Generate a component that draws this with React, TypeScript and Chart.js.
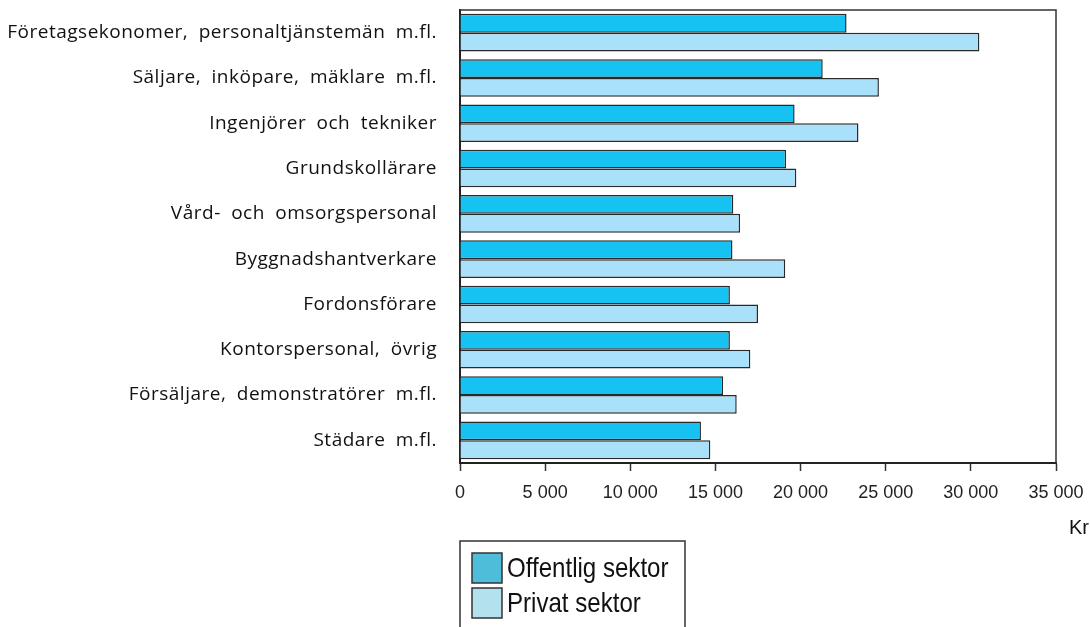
import React, { useEffect, useRef } from "react";
import { Chart, registerables } from "chart.js";

Chart.register(...registerables);

const categories = [
  "Företagsekonomer, personaltjänstemän m.fl.",
  "Säljare, inköpare, mäklare m.fl.",
  "Ingenjörer och tekniker",
  "Grundskollärare",
  "Vård- och omsorgspersonal",
  "Byggnadshantverkare",
  "Fordonsförare",
  "Kontorspersonal, övrig",
  "Försäljare, demonstratörer m.fl.",
  "Städare m.fl.",
];

const offentlig = [22700, 21300, 19650, 19150, 16050, 16000, 15850, 15850, 15450, 14150];
const privat = [30500, 24600, 23400, 19750, 16450, 19100, 17500, 17050, 16250, 14700];

const seriesNames = ["Offentlig sektor", "Privat sektor"];
const xTicks = [0, 5000, 10000, 15000, 20000, 25000, 30000, 35000];
const unitLabel = "Kr";

const formatNum = (v: number) => String(v).replace(/\B(?=(\d{3})+(?!\d))/g, " ");

const spacingPlugin = {
  id: "spacing",
  beforeDraw(chart: any) {
    const ctx = chart.ctx;
    ctx.letterSpacing = "0px";
    ctx.wordSpacing = "0px";
  },
  beforeDatasetsDraw(chart: any) {
    // y labels are drawn after datasets (ticks z = 1): widen their spacing
    const ctx = chart.ctx;
    ctx.letterSpacing = "0.5px";
    ctx.wordSpacing = "5px";
  },
};

const extrasPlugin = {
  id: "extras",
  afterDraw(chart: any) {
    const { ctx, chartArea } = chart;
    ctx.letterSpacing = "0px";
    ctx.wordSpacing = "0px";
    ctx.save();
    // top and right frame lines
    ctx.strokeStyle = "#333";
    ctx.lineWidth = 1.5;
    ctx.beginPath();
    ctx.moveTo(chartArea.left, chartArea.top);
    ctx.lineTo(chartArea.right, chartArea.top);
    ctx.lineTo(chartArea.right, chartArea.bottom);
    ctx.stroke();

    // unit label
    ctx.fillStyle = "#111";
    ctx.font = '20px "Liberation Sans", Arial, sans-serif';
    ctx.textAlign = "right";
    ctx.textBaseline = "middle";
    ctx.fillText(unitLabel, 1089, 528);

    // legend box
    ctx.strokeStyle = "#333";
    ctx.lineWidth = 1.5;
    ctx.beginPath();
    ctx.moveTo(460, 640);
    ctx.lineTo(460, 541);
    ctx.lineTo(685, 541);
    ctx.lineTo(685, 640);
    ctx.stroke();

    const swatchColors = ["#4DBDD9", "#B3E1EE"];
    const rows = [553, 588];
    rows.forEach((y, i) => {
      ctx.fillStyle = swatchColors[i];
      ctx.fillRect(472, y, 30, 30);
      ctx.strokeStyle = "#333";
      ctx.lineWidth = 1.5;
      ctx.strokeRect(472, y, 30, 30);
      ctx.save();
      ctx.translate(507, y + 16);
      ctx.scale(0.86, 1);
      ctx.font = '28px "Liberation Sans", Arial, sans-serif';
      ctx.textAlign = "left";
      ctx.textBaseline = "middle";
      ctx.fillStyle = "#111";
      ctx.fillText(seriesNames[i], 0, 0);
      ctx.restore();
    });
    ctx.restore();
  },
};

export default function App() {
  const canvasRef = useRef<HTMLCanvasElement | null>(null);

  useEffect(() => {
    if (!canvasRef.current) return;
    const chart = new Chart(canvasRef.current, {
      type: "bar",
      data: {
        labels: categories,
        datasets: [
          {
            label: seriesNames[0],
            data: offentlig,
            backgroundColor: "#16C2F1",
            borderColor: "#2a2a2a",
            borderWidth: 1.5,
            categoryPercentage: 0.83,
            barPercentage: 1.0,
          },
          {
            label: seriesNames[1],
            data: privat,
            backgroundColor: "#AAE1FA",
            borderColor: "#2a2a2a",
            borderWidth: 1.5,
            categoryPercentage: 0.83,
            barPercentage: 1.0,
          },
        ],
      },
      options: {
        indexAxis: "y",
        animation: false,
        responsive: false,
        maintainAspectRatio: false,
        layout: { padding: { top: 10, right: 34, left: 0, bottom: 114 } },
        plugins: { legend: { display: false }, tooltip: { enabled: false } },
        scales: {
          x: {
            min: 0,
            max: 35000,
            afterBuildTicks: (scale: any) => {
              scale.ticks = xTicks.map((v) => ({ value: v }));
            },
            afterFit: (scale: any) => {
              scale.height = 50;
              scale.paddingLeft = 0;
              scale.paddingRight = 0;
            },
            grid: {
              drawOnChartArea: false,
              drawTicks: true,
              tickLength: 8,
              tickColor: "#333",
              tickWidth: 1.5,
            },
            border: { display: true, color: "#222", width: 2 },
            ticks: {
              padding: 11,
              color: "#222",
              font: { family: '"Liberation Sans", Arial, sans-serif', size: 18 },
              maxRotation: 0,
              callback: (v: any) => formatNum(Number(v)),
            },
          },
          y: {
            afterFit: (scale: any) => {
              scale.width = 460;
              scale.paddingTop = 0;
              scale.paddingBottom = 0;
            },
            grid: { display: false },
            border: { display: true, color: "#222", width: 2 },
            ticks: {
              z: 1,
              padding: 15,
              color: "#111",
              font: { family: '"Open Sans", sans-serif', size: 19 },
            },
          },
        },
      },
      plugins: [spacingPlugin, extrasPlugin],
    });
    return () => chart.destroy();
  }, []);

  return (
    <div style={{ position: "fixed", left: 0, top: 0, width: 1090, height: 627, background: "#fff" }}>
      <canvas ref={canvasRef} width={1090} height={627} style={{ display: "block" }} />
    </div>
  );
}
